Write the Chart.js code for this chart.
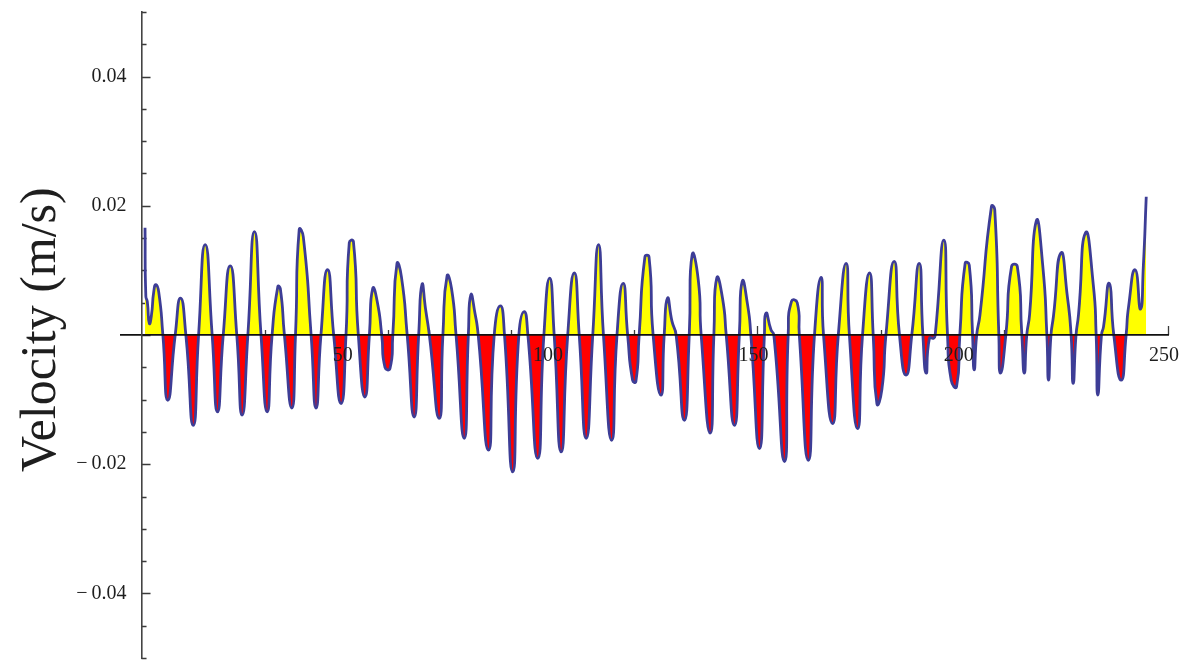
<!DOCTYPE html>
<html>
<head>
<meta charset="utf-8">
<title>Velocity</title>
<script src="https://cdn.jsdelivr.net/npm/chart.js@4.4.1/dist/chart.umd.min.js"></script>
<style>
  html, body { margin: 0; padding: 0; background: #fff; }
  canvas { display: block; }
</style>
</head>
<body>
<canvas id="chart" width="1192" height="662"></canvas>
<script>
// Sample times and measured velocity (m/s)
const time = [
  0.85, 1.05, 1.4, 1.9, 2.4, 3.0, 3.5, 4.2, 5.2,
  6.4, 8.2, 9.5, 10.8, 12.6, 13.9, 15.5, 17.2, 18.5, 19.9,
  21.6, 23.2, 24.5, 25.9, 27.5, 29.1, 30.6, 31.8, 33.2, 33.8, 34.8,
  36.6, 37.5, 38.4, 39.4, 41.3, 42.5, 43.7, 45.3, 46.8, 48.6, 49.8,
  50.6, 51.6, 52.8, 54.4, 55.5, 56.3, 57.4, 58.5, 59.3, 60.5, 61.2,
  62.2, 63.3, 64.7, 66.4, 67.5, 68.3, 69.2, 70.1, 72.5, 73.4,
  74.4, 75.5, 76.6, 78.6, 79.6, 80.2, 81.2, 82.0, 84.5, 85.9,
  87.4, 88.4, 90.4, 91.9, 93.2, 94.1, 96.5, 98.0, 99.4, 100.5,
  102.2, 103.8, 105.4, 106.6, 108.3, 109.9, 111.3, 112.5, 114.5, 115.8,
  117.3, 118.4, 119.6, 120.4, 121.2, 122.6, 123.6, 124.6, 126.5, 127.3,
  128.1, 129.2, 130.2, 132.2, 133.4, 134.1, 135.6, 136.3, 138.5, 139.4,
  140.1, 141.5, 142.4, 144.4, 145.6, 146.3, 147.6, 148.4, 150.5, 151.7,
  152.1, 153.3, 154.0, 156.6, 157.5, 158.3, 159.7, 160.2, 162.4, 163.9,
  165.5, 166.1, 168.3, 169.7, 171.6, 172.4, 174.4, 175.6, 177.3, 178.2,
  179.1, 180.3, 181.3, 183.3, 184.6, 186.2, 187.6, 189.4, 190.3, 191.1,
  191.9, 192.9, 193.3, 195.4, 196.3, 197.2, 198.5, 199.3, 200.6, 201.6,
  202.4, 202.8, 203.4, 204.2, 207.0, 207.8, 208.8, 209.2, 210.5, 211.9,
  213.3, 214.4, 215.0, 215.6, 216.3, 217.9, 219.5, 220.5, 220.9, 221.5,
  222.1, 223.9, 225.5, 226.4, 226.9, 227.6, 228.2, 229.9, 231.8, 232.5,
  232.9, 233.8, 234.3, 235.7, 236.8, 238.6, 239.8, 240.4, 242.0, 243.3,
  244.0, 244.7
];
const velocity = [
  0.0166, 0.0060, 0.0052, 0.0018, 0.0030, 0.0068, 0.0078, 0.0066, 0,
  -0.0101, 0, 0.0057, 0, -0.0140, 0, 0.0140, 0, -0.0119, 0,
  0.0107, 0, -0.0124, 0, 0.0160, 0, -0.0119, 0, 0.0075, 0.0072, 0,
  -0.0113, 0, 0.0163, 0.0152, 0, -0.0113, 0, 0.0101, 0, -0.0106, 0,
  0.0143, 0.0145, 0, -0.0096, 0, 0.0072, 0.0052, 0, -0.0050, -0.0052, 0,
  0.0110, 0.0090, 0, -0.0127, 0, 0.0078, 0.0039, 0, -0.0129, 0,
  0.0091, 0.0072, 0, -0.0160, 0, 0.0062, 0.0034, 0, -0.0178, 0,
  0.0045, 0, -0.0212, 0, 0.0036, 0, -0.0191, 0, 0.0088, 0,
  -0.0181, 0, 0.0096, 0, -0.0160, 0, 0.0140, 0, -0.0163, 0,
  0.0080, 0, -0.0070, -0.0072, 0, 0.0121, 0.0121, 0, -0.0093, 0,
  0.0057, 0.0021, 0, -0.0132, 0, 0.0124, 0.0085, 0, -0.0152, 0,
  0.0088, 0.0057, 0, -0.0140, 0, 0.0083, 0.0047, 0, -0.0176, 0,
  0.0034, 0.0008, 0, -0.0196, 0, 0.0052, 0.0050, 0, -0.0194, 0,
  0.0089, 0, -0.0137, 0, 0.0111, 0, -0.0145, 0, 0.0096, 0,
  -0.0106, -0.0085, 0, 0.0114, 0, -0.0062, 0, 0.0111, 0, -0.0059,
  -0.0005, -0.0005, 0, 0.0147, 0, -0.0070, -0.0080, 0, 0.0111, 0.0108,
  0, -0.0054, 0, 0.0031, 0.0199, 0.0194, 0, -0.0059, 0, 0.0106,
  0.0106, 0, -0.0059, 0, 0.0032, 0.0176, 0.0107, 0, -0.0070, 0,
  0.0029, 0.0127, 0.0059, 0, -0.0075, 0, 0.0031, 0.0158, 0.0078, 0,
  -0.0093, 0, 0.0013, 0.0080, 0, -0.0070, 0, 0.0044, 0.0101, 0.0040,
  0.0107, 0.0214
];

// Axis ticks and labels
const xMajorTicks = [50, 100, 150, 200, 250];
const xMinorTicks = [10, 20, 30, 40, 60, 70, 80, 90, 110, 120, 130, 140, 160, 170, 180, 190, 210, 220, 230, 240];
const yMajorTicks = [-0.04, -0.02, 0, 0.02, 0.04];
const yMinorTicks = [-0.05, -0.045, -0.035, -0.03, -0.025, -0.015, -0.01, -0.005,
                     0.005, 0.01, 0.015, 0.025, 0.03, 0.035, 0.045, 0.05];
const yLabelledTicks = [-0.04, -0.02, 0.02, 0.04];
const yTickLabels = ['\u2212\u20090.04', '\u2212\u20090.02', '0.02', '0.04'];
const yTitle = 'Velocity (m/s)';

const SERIF = '"Liberation Serif", "Times New Roman", serif';
const INK = '#1e1e1e';
// trailing gap between y labels and the axis line
const Y_LABEL_GAP = '   ';

const points = time.map((t, i) => ({ x: t, y: velocity[i] }));

// Short tick marks pointing into the plot, drawn beneath the filled curve
const axisMarks = {
  id: 'axisMarks',
  beforeDatasetsDraw(chart) {
    const { ctx, scales: { x, y } } = chart;
    const x0 = x.getPixelForValue(0);
    const y0 = y.getPixelForValue(0);
    ctx.save();
    ctx.strokeStyle = '#3a3a3a';
    ctx.lineWidth = 1.3;
    ctx.beginPath();
    yMinorTicks.forEach(v => { const p = Math.round(y.getPixelForValue(v)) + 0.5; ctx.moveTo(x0, p); ctx.lineTo(x0 + 5, p); });
    yMajorTicks.forEach(v => { const p = Math.round(y.getPixelForValue(v)) + 0.5; ctx.moveTo(x0, p); ctx.lineTo(x0 + 9, p); });
    xMinorTicks.forEach(v => { const p = Math.round(x.getPixelForValue(v)) + 0.5; ctx.moveTo(p, y0); ctx.lineTo(p, y0 - 5); });
    xMajorTicks.forEach(v => { const p = Math.round(x.getPixelForValue(v)) + 0.5; ctx.moveTo(p, y0); ctx.lineTo(p, y0 - 9); });
    ctx.stroke();
    ctx.restore();
  },
  afterDraw(chart) {
    const { ctx } = chart;
    ctx.save();
    ctx.translate(55, 472);
    ctx.rotate(-Math.PI / 2);
    ctx.font = '50px ' + SERIF;
    ctx.fillStyle = INK;
    ctx.textAlign = 'left';
    ctx.textBaseline = 'alphabetic';
    ctx.fillText(yTitle, 0, 0);
    ctx.restore();
  }
};

new Chart(document.getElementById('chart'), {
  type: 'line',
  data: {
    datasets: [{
      data: points,
      borderColor: '#3d3d96',
      borderWidth: 2.8,
      pointRadius: 0,
      tension: 0.6,
      fill: { target: 'origin', above: '#ffff00', below: '#ff0000' }
    }]
  },
  options: {
    responsive: false,
    animation: false,
    layout: { autoPadding: false, padding: { left: 121, right: 24, top: 12, bottom: 4 } },
    plugins: { legend: { display: false }, tooltip: { enabled: false } },
    scales: {
      x: {
        type: 'linear',
        min: -5,
        max: 250,
        position: { y: 0 },
        afterBuildTicks: s => { s.ticks = xMajorTicks.map(v => ({ value: v })); },
        grid: { display: true, drawOnChartArea: false, drawTicks: true, tickLength: 9, tickColor: 'rgba(0,0,0,0)' },
        border: { display: true, color: '#111', width: 1.8, z: 1 },
        ticks: {
          z: 1, padding: 0, autoSkip: false, maxRotation: 0, labelOffset: -4,
          color: INK, font: { family: SERIF, size: 20 },
          callback: v => String(v)
        }
      },
      y: {
        type: 'linear',
        min: -0.05,
        max: 0.05,
        position: { x: 0 },
        afterBuildTicks: s => { s.ticks = yLabelledTicks.map(v => ({ value: v })); },
        grid: { display: true, drawOnChartArea: false, drawTicks: false },
        border: { display: true, color: '#444', width: 1.6, z: 1 },
        ticks: {
          z: 1, padding: 0,
          color: INK, font: { family: SERIF, size: 20, lineHeight: 0.1 },
          callback: (v, i) => yTickLabels[i] + Y_LABEL_GAP
        }
      }
    }
  },
  plugins: [axisMarks]
});
</script>
</body>
</html>
